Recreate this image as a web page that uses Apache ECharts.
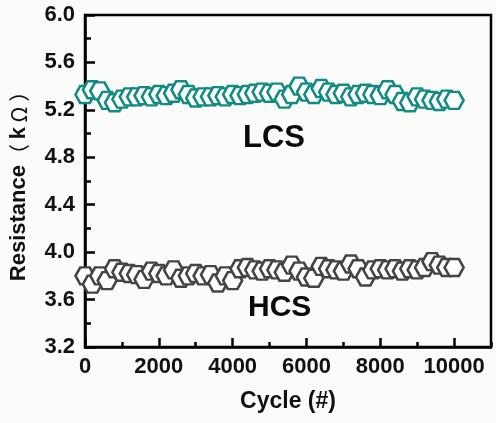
<!DOCTYPE html>
<html>
<head>
<meta charset="utf-8">
<script src="https://cdn.jsdelivr.net/npm/echarts@6/dist/echarts.min.js"></script>
<style>
  html, body { margin: 0; padding: 0; background: #fbfbfa; }
  #chart { width: 496px; height: 423px; }
</style>
</head>
<body>
<div id="chart"></div>
<script>
// Switching cycles at which the resistance was sampled
const cycles = [
  0, 200, 400, 600, 800, 1000, 1200, 1400, 1600, 1800,
  2000, 2200, 2400, 2600, 2800, 3000, 3200, 3400, 3600, 3800,
  4000, 4200, 4400, 4600, 4800, 5000, 5200, 5400, 5600, 5800,
  6000, 6200, 6400, 6600, 6800, 7000, 7200, 7400, 7600, 7800,
  8000, 8200, 8400, 8600, 8800, 9000, 9200, 9400, 9600, 9800,
  10000
];

// Low-conductance state resistance (kΩ)
const lcsValues = [
  5.33, 5.37, 5.36, 5.28, 5.26, 5.29, 5.31, 5.31, 5.32, 5.31,
  5.33, 5.32, 5.34, 5.37, 5.33, 5.30, 5.31, 5.31, 5.32, 5.31,
  5.33, 5.32, 5.33, 5.34, 5.35, 5.34, 5.35, 5.29, 5.33, 5.40,
  5.35, 5.33, 5.38, 5.35, 5.33, 5.34, 5.31, 5.33, 5.34, 5.33,
  5.32, 5.37, 5.33, 5.27, 5.26, 5.31, 5.29, 5.28, 5.27, 5.29,
  5.28
];

// High-conductance state resistance (kΩ)
const hcsValues = [
  3.80, 3.73, 3.80, 3.76, 3.86, 3.83, 3.82, 3.81, 3.77, 3.84,
  3.82, 3.80, 3.85, 3.78, 3.80, 3.82, 3.80, 3.81, 3.74, 3.80,
  3.76, 3.86, 3.87, 3.85, 3.84, 3.86, 3.85, 3.83, 3.89, 3.84,
  3.79, 3.78, 3.88, 3.86, 3.85, 3.84, 3.90, 3.86, 3.79, 3.85,
  3.86, 3.85, 3.86, 3.84, 3.86, 3.85, 3.87, 3.92, 3.89, 3.87,
  3.87
];

const yTicks = ['3.2', '3.6', '4.0', '4.4', '4.8', '5.2', '5.6', '6.0'];
const xTicks = ['0', '2000', '4000', '6000', '8000', '10000'];

const FONT = '"Liberation Sans", Arial, sans-serif';
// flat-topped hexagon outline
const HEX = 'path://M-1,0L-0.5,-0.866L0.5,-0.866L1,0L0.5,0.866L-0.5,0.866Z';

function pairs(ys) {
  return cycles.map((c, i) => [c, ys[i]]);
}

function hexSeries(name, ys, color) {
  return {
    name: name,
    type: 'scatter',
    xAxisIndex: 0,
    yAxisIndex: 0,
    data: pairs(ys),
    symbol: HEX,
    symbolSize: [19, 17],
    itemStyle: { color: '#ffffff', borderColor: color, borderWidth: 2.5, opacity: 1 },
    emphasis: { disabled: true },
    animation: false
  };
}

const chart = echarts.init(document.getElementById('chart'), null, { renderer: 'canvas' });

chart.setOption({
  backgroundColor: '#fbfbfa',
  animation: false,
  grid: {
    left: 85, top: 15, right: 5, bottom: 76,
    show: true, borderColor: '#000', borderWidth: 2.5, backgroundColor: 'transparent'
  },
  xAxis: [
    {
      type: 'value',
      min: 0, max: 11000, interval: 2000,
      name: 'Cycle (#)',
      nameLocation: 'middle',
      nameGap: 43,
      nameTextStyle: { fontFamily: FONT, fontWeight: 'bold', fontSize: 23, color: '#111' },
      axisLine: { lineStyle: { color: '#000', width: 2.5 } },
      axisTick: { inside: true, length: 9, lineStyle: { color: '#000', width: 2.5 } },
      axisLabel: {
        margin: 9, fontFamily: FONT, fontWeight: 'bold', fontSize: 22, color: '#111',
        showMaxLabel: false,
        formatter: v => (xTicks.indexOf(String(v)) >= 0 ? String(v) : '')
      },
      splitLine: { show: false }
    },
    {
      // short intermediate ticks every 1000 cycles
      type: 'value',
      position: 'bottom',
      min: 0, max: 11000, interval: 1000,
      axisLine: { show: false },
      axisTick: { inside: true, length: 5, lineStyle: { color: '#000', width: 2.5 } },
      axisLabel: { show: false },
      splitLine: { show: false }
    }
  ],
  yAxis: {
    type: 'value',
    min: 3.2, max: 6.0, interval: 0.4,
    name: 'Resistance{n|（ }k{n| Ω ）}',
    nameLocation: 'middle',
    nameGap: 55,
    nameTextStyle: {
      fontFamily: FONT, fontWeight: 'bold', fontSize: 22, color: '#111',
      rich: { n: { fontFamily: '"Noto Sans CJK SC", ' + FONT, fontWeight: 'normal', fontSize: 21, color: '#111' } }
    },
    axisLine: { lineStyle: { color: '#000', width: 2.5 } },
    axisTick: { inside: true, length: 10, lineStyle: { color: '#000', width: 2.5 } },
    minorTick: { show: true, splitNumber: 2, length: 6, lineStyle: { color: '#000', width: 2.5 } },
    axisLabel: {
      margin: 10, fontFamily: FONT, fontWeight: 'bold', fontSize: 22, color: '#111',
      formatter: v => {
        const s = v.toFixed(1);
        return yTicks.indexOf(s) >= 0 ? s : '';
      }
    },
    splitLine: { show: false },
    minorSplitLine: { show: false }
  },
  series: [
    hexSeries('LCS', lcsValues, '#138a84'),
    hexSeries('HCS', hcsValues, '#444444')
  ],
  graphic: [
    {
      type: 'text', left: 243, top: 123,
      style: { text: 'LCS', fontFamily: FONT, fontWeight: 'bold', fontSize: 31, fill: '#0a0a0a' }
    },
    {
      type: 'text', left: 248, top: 293,
      style: { text: 'HCS', fontFamily: FONT, fontWeight: 'bold', fontSize: 30, fill: '#0a0a0a' }
    }
  ]
});
</script>
</body>
</html>
